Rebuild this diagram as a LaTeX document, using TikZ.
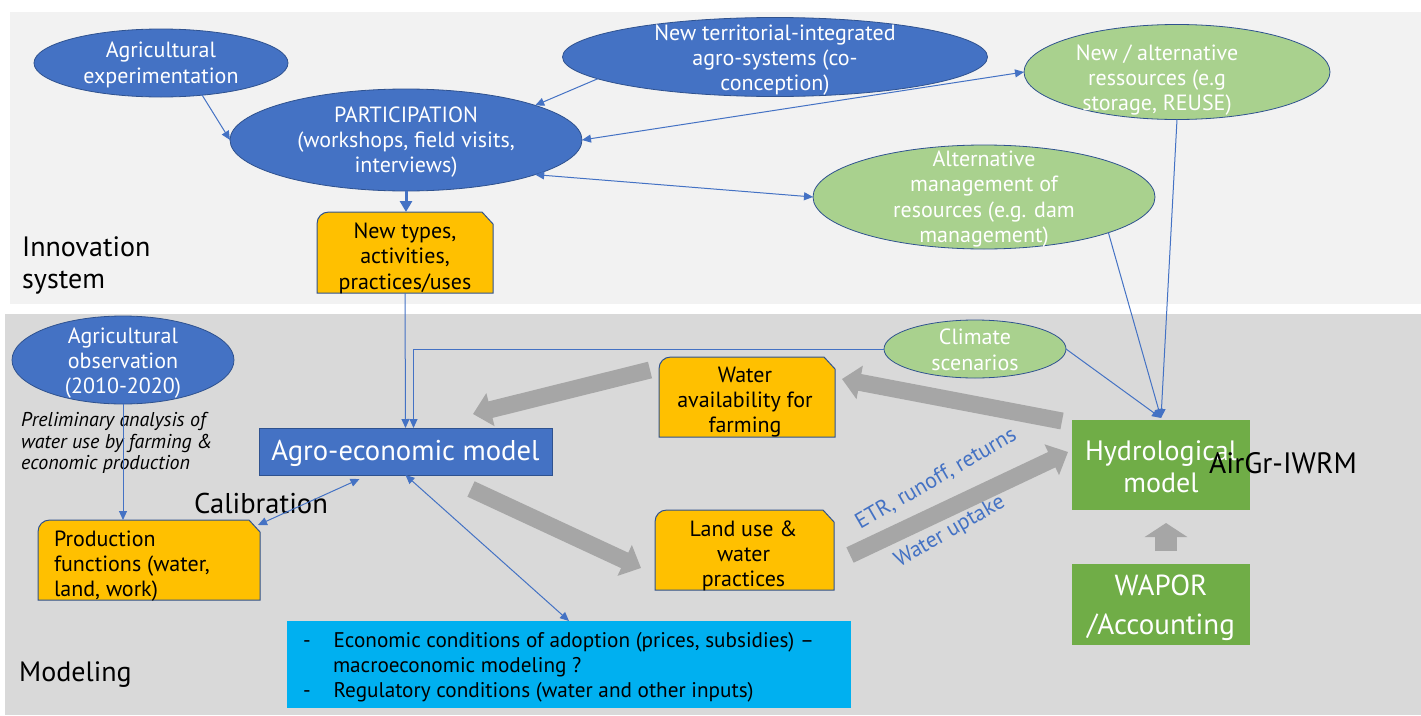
\documentclass[tikz,border=0pt]{standalone}
\usepackage{fontspec}
\setmainfont{PT Sans}
\usetikzlibrary{arrows.meta,calc,shapes.geometric}
\definecolor{blu}{HTML}{4472C4}
\definecolor{edge}{HTML}{2F528F}
\definecolor{lgreen}{HTML}{A9D18E}
\definecolor{dgreen}{HTML}{70AD47}
\definecolor{orng}{HTML}{FFC000}
\definecolor{cyanb}{HTML}{00B0F0}
\definecolor{gry}{HTML}{A6A6A6}
\definecolor{bgtop}{HTML}{F2F2F2}
\definecolor{bgbot}{HTML}{D9D9D9}
% zero-size text blocks so that node size is governed only by minimum width/height
\newcommand{\TC}[4][22]{\fontsize{#1}{25.3}\selectfont\raisebox{\dimexpr-#3pt-.25em-2pt}[0pt][0pt]{\makebox[0pt][c]{\hspace{\dimexpr 2pt*#2}\begin{tabular}[c]{@{}c@{}}#4\end{tabular}}}}
\newcommand{\TL}[4][22]{\fontsize{#1}{25.3}\selectfont\raisebox{\dimexpr-#3pt-.25em-2pt}[0pt][0pt]{\makebox[0pt][l]{\hspace{#2pt}\begin{tabular}[c]{@{}l@{}}#4\end{tabular}}}}
\tikzset{
  ell/.style={ellipse,draw=edge,line width=.8pt,inner sep=0pt,outer sep=0pt,text=white},
  ellblue/.style={ell,fill=blu},
  ellgreen/.style={ell,fill=lgreen},
  boxn/.style={rectangle,inner sep=0pt,outer sep=0pt},
  docface/.style={fill=orng,draw=edge,line width=1pt},
  link/.style={draw=blu,line width=1pt},
  tipb/.style={-{Triangle[length=9pt,width=8pt]}},
  tipbb/.style={{Triangle[length=9pt,width=8pt]}-{Triangle[length=9pt,width=8pt]}},
  bigarrow/.style={draw=gry,line width=17pt,-{Triangle[length=18pt,width=33pt]}},
  lab/.style={anchor=west,inner sep=0pt,font=\fontsize{28}{32}\selectfont,align=left},
  flowlab/.style={inner sep=0pt,text=blu,font=\fontsize{22}{24}\selectfont,rotate=30}
}
\newcommand{\docnode}[6]{%
  \path[docface] (#2+12,#3) -- (#4-11,#3) -- (#4,#3+12) -- (#4,#5) -- (#2,#5) -- (#2,#3+12) .. controls (#2,#3+5) and (#2+5,#3) .. (#2+12,#3) -- cycle;
  \node[boxn,minimum width={(#4-#2)*1pt},minimum height={(#5-#3)*1pt}] (#1) at ({(#2+#4)/2},{(#3+#5)/2}) {#6};}
\begin{document}
\begin{tikzpicture}[x=1pt,y=-1pt]
\useasboundingbox (0,0) rectangle (1421,715);
\fill[bgtop] (10,12) rectangle (1421,304);
\fill[bgbot] (5,314) rectangle (1421,715);

\node[ellblue,minimum width=254pt,minimum height=68pt] (exper) at (161,63) {\TC{0}{0}{Agricultural\\experimentation}};
\node[ellblue,minimum width=352pt,minimum height=102pt] (part) at (406,140) {\TC{0}{0}{PARTICIPATION\\(workshops, field visits,\\interviews)}};
\node[ellblue,minimum width=425pt,minimum height=79pt] (newterr) at (775,57) {\TC{0}{1}{New territorial-integrated\\agro-systems (co-\\conception)}};
\node[ellgreen,minimum width=306pt,minimum height=95pt] (newres) at (1177,72) {\TC{-20}{6}{New / alternative\\ressources (e.g\\storage, REUSE)}};
\node[ellgreen,minimum width=342pt,minimum height=104pt] (altm) at (984,197) {\TC{0}{0}{Alternative\\management of\\resources (e.g. dam\\management)}};
\node[ellblue,minimum width=222pt,minimum height=88pt] (obs) at (123,360) {\TC{0}{1}{Agricultural\\observation\\(2010-2020)}};
\node[ellgreen,minimum width=182pt,minimum height=58pt] (clim) at (975,349) {\TC{0}{1}{Climate\\scenarios}};

\docnode{newtypes}{317}{212}{493}{293}{\TC{0}{4}{New types,\\activities,\\practices/uses}}
\docnode{water}{659}{357}{835}{437}{\TC{-2}{3}{Water\\availability for\\farming}}
\docnode{land}{655}{510}{834}{590}{\TC{-1}{4}{Land use \&\\water\\practices}}
\docnode{prod}{38}{520}{260}{600}{\TL{-95}{4}{Production\\functions (water,\\land, work)}}

\node[boxn,fill=blu,draw=edge,line width=1pt,text=white,minimum width=293pt,minimum height=47pt] (agro) at (405.5,451.5) {\TC[28.6]{0}{0}{Agro-economic model}};
\node[boxn,fill=dgreen,text=white,minimum width=178pt,minimum height=90pt] (hydro) at (1161,465) {\TC[28]{0}{2.5}{Hydrological\\[5pt]model}};
\node[boxn,fill=dgreen,text=white,minimum width=178pt,minimum height=81pt] (wapor) at (1161,604.5) {\TC[29]{0}{1}{WAPOR\\[11pt]/Accounting}};
\node[boxn,fill=cyanb,minimum width=564pt,minimum height=87pt] (cyan) at (569,664.5) {\TL[21.2]{-266}{1}{-\hspace{23pt}Economic conditions of adoption (prices, subsidies) --\\\hspace{30pt}macroeconomic modeling ?\\-\hspace{23pt}Regulatory conditions (water and other inputs)}};

\node[lab] (innov) at (22,265) {Innovation\\system};
\node[lab] (model) at (19,675) {Modeling};
\node[lab,font=\fontsize{28.6}{32}\selectfont] (calib) at (194,503) {Calibration};
\node[lab,font=\fontsize{29.5}{30}\selectfont] (airgr) at (1209,463) {AirGr-IWRM};
\node[inner sep=0pt,anchor=west,align=left,font=\fontsize{20}{21.5}\selectfont\itshape] (prelim) at (21,443) {Preliminary analysis of\\water use by farming \&\\economic production};
\node[flowlab] (etr) at (936,479) {ETR, runoff, returns};
\node[flowlab] (wup) at (950,532) {Water uptake};

% thick grey flow arrows
\draw[bigarrow] ($(hydro.north west)+(-10,1)$) -- ($(water.east)+(7,-18)$);
\draw[bigarrow] ($(water.north west)+(-9,13)$) -- ($(agro.north east)+(-79,-14)$);
\draw[bigarrow] ($(agro.south east)+(-81,14)$) -- ($(land.west)+(-14,18)$);
\draw[bigarrow] ($(land.east)+(16,5)$) -- ($(hydro.west)+(-4,-13)$);
\draw[draw=gry,line width=22pt,-{Triangle[length=14pt,width=42pt]}] ($(wapor.north)+(5,-13)$) -- ($(hydro.south)+(5,13)$);

% thin connectors
\draw[link,tipb] (exper.-38) -- (part.west);
\draw[link,tipb] (newterr.187) -- (part.15.5);
\draw[link,tipbb] (part.east) -- (newres.west);
\draw[link,tipbb] (part.-15.5) -- (altm.west);
\draw[draw=blu,line width=3pt,-{Triangle[length=11pt,width=12pt]}] (part.south) -- ($(newtypes.north)+(1,0)$);
\draw[link,tipb] (newtypes.south) -- (agro.north);
\draw[link,tipb] (clim.west) -| ($(agro.north)+(8,0)$);
\draw[link,tipb] (newres.-90) -- ($(hydro.north)+(0,-2)$);
\draw[link,tipb] (altm.-16) -- ($(hydro.north)+(0,-2)$);
\draw[link,tipb] (clim.east) -- ($(hydro.north)+(0,-2)$);
\draw[link,tipb] (obs.south) -- (obs.south |- prod.north);
\draw[link,tipbb] ($(prod.north east)+(-2,5)$) -- ($(agro.south)+(-46,4)$);
\draw[link,tipbb] (agro.south) -- (cyan.north);
\end{tikzpicture}
\end{document}
